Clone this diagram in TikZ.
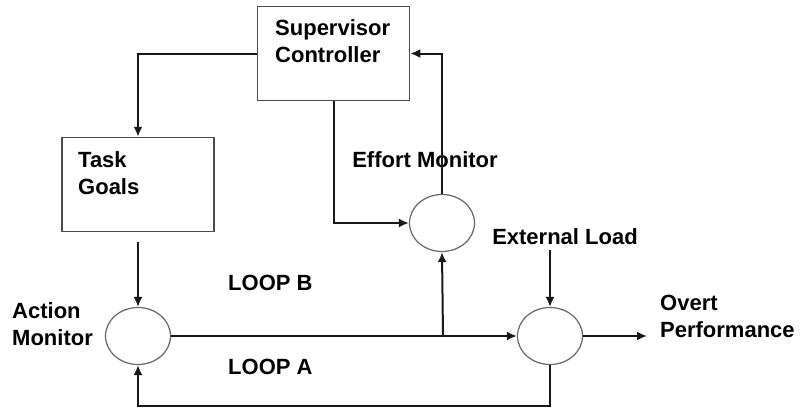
\documentclass[tikz,border=0pt]{standalone}
\usepackage{fontspec}
\setmainfont{Liberation Sans}
\usepackage{tikz}
\usetikzlibrary{arrows.meta,shapes.geometric}
\tikzstyle{block}=[draw=black!70,line width=1.5pt,fill=white,minimum width=152pt,minimum height=94pt]
\tikzstyle{monitor}=[draw=black!60,line width=1.2pt,fill=white,ellipse,minimum width=65pt,minimum height=57pt]
\tikzstyle{label}=[font=\fontsize{22}{27}\selectfont\bfseries,inner sep=0pt,align=left]
\tikzstyle{flow}=[draw=black!90,line width=2pt,-{Latex[length=10pt,width=9pt]}]

\begin{document}
\begin{tikzpicture}[x=1pt,y=-1pt]
		\useasboundingbox (0,0) rectangle (801,408);
		\node[block] (sup) at (333.5,53.5) {};
		\node[block] (goals) at (138,184.5) {};
		\node[label,anchor=north west] (supt) at (275,19) {Supervisor\\Controller};
		\node[label,anchor=north west] (goalst) at (78,151) {Task\\Goals};
		\node[monitor] (act) at (138,336) {};
		\node[monitor] (eff) at (442,223) {};
		\node[monitor] (ovt) at (550,336) {};
		\node[label] (efft) at (425,160) {Effort Monitor};
		\node[label,anchor=west] (actt) at (12,324) {Action\\Monitor};
		\node[label] (load) at (565,237) {External Load};
		\node[label,anchor=west] (perf) at (660,316) {Overt\\Performance};
		\node[label,anchor=west] (loopb) at (228,283) {LOOP B};
		\node[label,anchor=west] (loopa) at (228,367) {LOOP A};
		\coordinate (br) at (443,336);
		\draw[flow] (sup.west) -| (goals.north);
		\draw[flow] (sup.south) |- (eff.west);
		\draw[flow] (eff.north) |- (sup.east);
		\draw[flow,shorten <=10pt] (goals.south) -- (act.north);
		\draw[flow] (act.east) -- (ovt.west);
		\draw[flow] (br) -- (eff.south);
		\draw[flow,shorten <=5pt] (ovt.north |- load.south) -- (ovt.north);
		\draw[flow,shorten >=13pt] (ovt.east) -- (ovt.east -| perf.west);
		\draw[flow] (ovt.south) -- ++(0,41) -| (act.south);
	\end{tikzpicture}
\end{document}
